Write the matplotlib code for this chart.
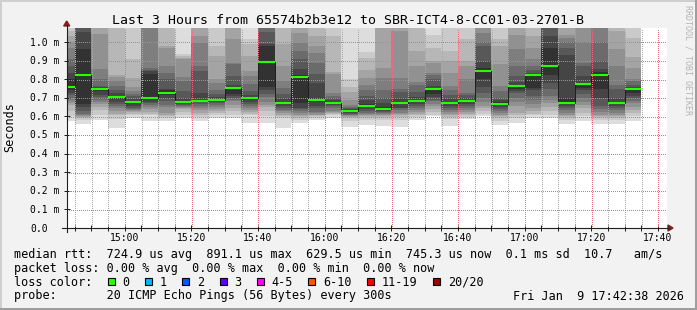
import math
import matplotlib
matplotlib.use("Agg")
import matplotlib.pyplot as plt
from matplotlib.patches import Rectangle, Polygon
import matplotlib.transforms as mtransforms

plt.rcParams['font.family'] = ['DejaVu Sans Mono']

# 5 minute bins (start time), median rtt (ms) and the 20 sorted pings (ms) of each bin
bin_times = ["14:40", "14:45", "14:50", "14:55", "15:00", "15:05", "15:10", "15:15",
             "15:20", "15:25", "15:30", "15:35", "15:40", "15:45", "15:50", "15:55",
             "16:00", "16:05", "16:10", "16:15", "16:20", "16:25", "16:30", "16:35",
             "16:40", "16:45", "16:50", "16:55", "17:00", "17:05", "17:10", "17:15",
             "17:20", "17:25", "17:30"]

median_ms = [0.760, 0.825, 0.750, 0.704, 0.677, 0.697, 0.726, 0.677, 0.684, 0.690,
             0.753, 0.699, 0.8911, 0.672, 0.812, 0.690, 0.672, 0.6295, 0.656, 0.640,
             0.672, 0.683, 0.747, 0.672, 0.683, 0.844, 0.667, 0.763, 0.823, 0.871,
             0.672, 0.774, 0.823, 0.672, 0.7453]

smoke_ms = [
    [0.575, 0.602, 0.63, 0.66, 0.67, 0.685, 0.70, 0.715, 0.725, 0.74, 0.80, 0.835, 0.87, 0.91, 0.97, 1.00, 1.03, 1.06, 1.10, 1.20],
    [0.557, 0.58, 0.59, 0.595, 0.60, 0.605, 0.615, 0.63, 0.65, 0.665, 0.964, 1.055, 1.10, 1.12, 1.14, 1.16, 1.18, 1.20, 1.25, 1.30],
    [0.58, 0.61, 0.635, 0.65, 0.665, 0.675, 0.69, 0.705, 0.715, 0.735, 0.755, 0.76, 0.765, 0.80, 0.855, 1.045, 1.1, 1.15, 1.2, 1.3],
    [0.54, 0.585, 0.605, 0.615, 0.63, 0.645, 0.655, 0.665, 0.68, 0.695, 0.71, 0.725, 0.74, 0.765, 0.79, 0.81, 0.825, 1.1, 1.2, 1.3],
    [0.593, 0.605, 0.615, 0.625, 0.63, 0.635, 0.64, 0.645, 0.655, 0.665, 0.685, 0.695, 0.71, 0.72, 0.735, 0.76, 0.808, 0.907, 1.1, 1.2],
    [0.577, 0.61, 0.615, 0.625, 0.64, 0.65, 0.66, 0.67, 0.68, 0.69, 0.83, 0.845, 0.85, 0.86, 1.1, 1.15, 1.2, 1.3, 1.4, 1.5],
    [0.577, 0.59, 0.60, 0.61, 0.62, 0.65, 0.66, 0.685, 0.70, 0.715, 0.74, 0.745, 0.80, 0.835, 0.87, 0.97, 0.978, 1.1, 1.2, 1.3],
    [0.59, 0.61, 0.625, 0.64, 0.645, 0.65, 0.655, 0.66, 0.665, 0.67, 0.685, 0.70, 0.736, 0.79, 0.81, 0.907, 0.915, 0.925, 0.934, 1.2],
    [0.577, 0.595, 0.61, 0.62, 0.635, 0.645, 0.655, 0.665, 0.675, 0.68, 0.69, 0.728, 0.844, 0.871, 0.996, 1.032, 1.1, 1.2, 1.3, 1.4],
    [0.59, 0.605, 0.62, 0.63, 0.64, 0.65, 0.66, 0.67, 0.68, 0.685, 0.695, 0.705, 0.72, 0.74, 0.78, 0.80, 0.925, 0.978, 1.1, 1.2],
    [0.593, 0.61, 0.63, 0.647, 0.66, 0.683, 0.69, 0.70, 0.71, 0.72, 0.758, 0.77, 0.817, 0.88, 0.885, 1.014, 1.1, 1.15, 1.25, 1.35],
    [0.563, 0.605, 0.615, 0.625, 0.635, 0.645, 0.656, 0.665, 0.675, 0.69, 0.705, 0.715, 0.736, 0.773, 0.817, 0.844, 0.925, 0.99, 1.014, 1.2],
    [0.565, 0.60, 0.63, 0.652, 0.66, 0.68, 0.706, 0.72, 0.74, 0.76, 0.98, 0.99, 1.056, 1.1, 1.15, 1.2, 1.25, 1.3, 1.35, 1.4],
    [0.537, 0.59, 0.60, 0.61, 0.62, 0.628, 0.635, 0.645, 0.655, 0.665, 0.68, 0.70, 0.72, 0.75, 0.79, 0.871, 0.99, 1.1, 1.2, 1.3],
    [0.567, 0.58, 0.59, 0.60, 0.61, 0.62, 0.63, 0.64, 0.647, 0.674, 0.82, 0.853, 0.907, 0.953, 0.996, 1.05, 1.1, 1.2, 1.3, 1.4],
    [0.58, 0.59, 0.60, 0.605, 0.61, 0.62, 0.625, 0.645, 0.656, 0.675, 0.70, 0.78, 0.826, 0.889, 0.943, 0.978, 1.03, 1.1, 1.2, 1.3],
    [0.593, 0.61, 0.615, 0.62, 0.625, 0.629, 0.645, 0.655, 0.66, 0.665, 0.68, 0.69, 0.70, 0.71, 0.725, 0.826, 0.84, 1.032, 1.1, 1.2],
    [0.543, 0.575, 0.59, 0.595, 0.60, 0.605, 0.61, 0.615, 0.62, 0.625, 0.635, 0.64, 0.645, 0.65, 0.66, 0.69, 0.73, 0.76, 0.80, 1.2],
    [0.552, 0.58, 0.59, 0.60, 0.608, 0.615, 0.62, 0.63, 0.64, 0.652, 0.665, 0.688, 0.71, 0.742, 0.77, 0.805, 0.85, 0.912, 0.948, 1.2],
    [0.548, 0.58, 0.59, 0.60, 0.61, 0.615, 0.62, 0.625, 0.63, 0.635, 0.65, 0.67, 0.70, 0.742, 0.805, 0.858, 1.1, 1.2, 1.3, 1.4],
    [0.545, 0.58, 0.595, 0.605, 0.615, 0.62, 0.635, 0.645, 0.647, 0.665, 0.68, 0.70, 0.73, 0.746, 0.808, 1.06, 1.1, 1.2, 1.3, 1.4],
    [0.582, 0.595, 0.605, 0.615, 0.625, 0.635, 0.645, 0.655, 0.665, 0.675, 0.69, 0.705, 0.73, 0.77, 0.785, 0.87, 0.95, 1.1, 1.2, 1.3],
    [0.602, 0.61, 0.625, 0.64, 0.656, 0.665, 0.683, 0.69, 0.705, 0.718, 0.755, 0.765, 0.80, 0.82, 0.835, 0.889, 0.90, 0.97, 1.04, 1.2],
    [0.55, 0.585, 0.595, 0.605, 0.615, 0.625, 0.635, 0.645, 0.655, 0.665, 0.68, 0.70, 0.715, 0.74, 0.763, 0.835, 0.90, 0.95, 1.1, 1.2],
    [0.585, 0.595, 0.605, 0.615, 0.625, 0.635, 0.645, 0.655, 0.665, 0.675, 0.69, 0.70, 0.715, 0.728, 0.80, 0.871, 0.90, 1.014, 1.1, 1.2],
    [0.60, 0.615, 0.63, 0.645, 0.655, 0.675, 0.70, 0.728, 0.76, 0.80, 0.86, 0.898, 0.978, 1.0, 1.05, 1.1, 1.15, 1.2, 1.3, 1.4],
    [0.556, 0.575, 0.59, 0.60, 0.61, 0.62, 0.63, 0.64, 0.65, 0.66, 0.675, 0.69, 0.70, 0.736, 0.763, 0.88, 0.978, 1.014, 1.1, 1.2],
    [0.565, 0.59, 0.605, 0.62, 0.655, 0.675, 0.70, 0.728, 0.735, 0.75, 0.77, 0.785, 0.817, 0.871, 0.963, 1.04, 1.1, 1.2, 1.3, 1.4],
    [0.593, 0.605, 0.615, 0.63, 0.645, 0.665, 0.69, 0.71, 0.74, 0.755, 0.83, 0.835, 0.85, 0.871, 0.907, 0.97, 1.03, 1.1, 1.2, 1.3],
    [0.59, 0.61, 0.63, 0.65, 0.67, 0.69, 0.71, 0.745, 0.78, 0.82, 0.97, 1.03, 1.1, 1.15, 1.2, 1.25, 1.3, 1.35, 1.4, 1.5],
    [0.56, 0.58, 0.59, 0.60, 0.61, 0.62, 0.635, 0.645, 0.655, 0.665, 0.70, 0.93, 0.97, 1.0, 1.02, 1.04, 1.1, 1.2, 1.3, 1.4],
    [0.577, 0.60, 0.62, 0.647, 0.66, 0.68, 0.70, 0.72, 0.74, 0.755, 0.78, 0.817, 0.871, 0.889, 1.0, 1.1, 1.15, 1.2, 1.3, 1.4],
    [0.557, 0.58, 0.59, 0.60, 0.61, 0.625, 0.64, 0.656, 0.70, 0.746, 0.84, 0.853, 0.90, 1.0, 1.1, 1.15, 1.2, 1.3, 1.4, 1.5],
    [0.56, 0.58, 0.59, 0.60, 0.61, 0.62, 0.635, 0.645, 0.655, 0.665, 0.68, 0.70, 0.745, 0.77, 0.87, 0.96, 1.06, 1.1, 1.2, 1.3],
    [0.577, 0.60, 0.62, 0.635, 0.65, 0.67, 0.685, 0.70, 0.71, 0.728, 0.75, 0.76, 0.77, 0.79, 0.80, 0.862, 0.92, 1.022, 1.1, 1.2],
]

x_ticks = ["15:00", "15:20", "15:40", "16:00", "16:20", "16:40", "17:00", "17:20", "17:40"]
y_ticks = [0.0, 0.1, 0.2, 0.3, 0.4, 0.5, 0.6, 0.7, 0.8, 0.9, 1.0]

title = "Last 3 Hours from 65574b2b3e12 to SBR-ICT4-8-CC01-03-2701-B"
rtt_line = "median rtt:  724.9 us avg  891.1 us max  629.5 us min  745.3 us now  0.1 ms sd  10.7   am/s"
loss_line = "packet loss: 0.00 % avg  0.00 % max  0.00 % min  0.00 % now"
loss_labels = ["0", "1", "2", "3", "4-5", "6-10", "11-19", "20/20"]
loss_colors = ["#26ff00", "#00b8ff", "#0059ff", "#5e00ff", "#ff00ff", "#ff5500", "#ff0000", "#a10000"]
probe_line = "probe:       20 ICMP Echo Pings (56 Bytes) every 300s"
stamp = "Fri Jan  9 17:42:38 2026"
graph_end = "17:42:38"


def to_min(s):
    parts = [int(v) for v in s.split(":")]
    return parts[0] * 60 + parts[1] + (parts[2] / 60 if len(parts) > 2 else 0)


W, H = 697, 310
fig = plt.figure(figsize=(W / 100, H / 100), dpi=100, facecolor="#f2f2f2")


def box(x0, y0, x1, y1):
    return [x0 / W, 1 - y1 / H, (x1 - x0) / W, (y1 - y0) / H]


ax = fig.add_axes(box(66.7, 28, 666.7, 228))
ax.set_facecolor("white")
t_end = to_min(graph_end)
t_start = t_end - 180
y_top = 200 / 186

starts = [to_min(t) for t in bin_times]

# smoke: band k spans ping k .. ping 21-k, darker towards the median
for k in range(10):
    g = int(190 / 10 * (10 - (k + 1))) + 50
    col = "#%02x%02x%02x" % (g, g, g)
    lo = [sorted(p)[k] for p in smoke_ms]
    hi = [sorted(p)[19 - k] for p in smoke_ms]
    ax.bar(starts, [h - l for h, l in zip(hi, lo)], bottom=lo, width=5, align="edge",
           color=col, linewidth=0, zorder=1)

# median
ax.step(starts + [starts[-1] + 5], median_ms + [median_ms[-1]], where="post",
        color="#202020", lw=0.6, linestyle=(0, (1.2, 1.2)), antialiased=False, zorder=3)
ax.hlines(median_ms, starts, [s + 5 for s in starts], colors="#26ff00", lw=1.5, zorder=4)

# ticks
major = [to_min(t) for t in x_ticks]
minor = [s for s in starts + [starts[-1] + 5] if t_start < s < t_end and s not in major]
ax.set_xticks(major)
ax.set_xticklabels(x_ticks, fontsize=7)
ax.set_xticks(minor, minor=True)
ax.set_yticks(y_ticks)
ax.set_yticklabels([])
ax.set_xlim(t_start, t_end)
ax.set_ylim(0, y_top)
ax.tick_params(which="both", direction="inout", length=4, width=0.72, color="#1f1f1f", pad=1.5)
for s in ax.spines.values():
    s.set_visible(False)

# dotted grid, snapped to whole pixels so every line gets the same dot pattern
ident = mtransforms.IdentityTransform()
x0d, y0d = ax.transData.transform((t_start, 0))
x1d, y1d = ax.transData.transform((t_end, y_top))


def pix(v):
    return math.floor(v) + 0.5


minor_x = [pix(ax.transData.transform((t, 0))[0]) for t in minor]
major_x = [pix(ax.transData.transform((t, 0))[0]) for t in major]
major_y = [pix(ax.transData.transform((t_start, v))[1]) for v in y_ticks[1:]]
dots = (0, (1.2, 2.4))
ax.vlines(minor_x, y0d, y1d, transform=ident, colors="#a8a8a8", lw=0.6,
          linestyles=[dots], antialiased=False, zorder=2.5)
ax.vlines(major_x, y0d, y1d, transform=ident, colors="#e87070", lw=0.6,
          linestyles=[dots], antialiased=False, zorder=2.6)
ax.hlines(major_y, x0d, x1d, transform=ident, colors="#e87070", lw=0.6,
          linestyles=[dots], antialiased=False, zorder=2.6)
ax.set_xlim(t_start, t_end)
ax.set_ylim(0, y_top)

ytr = mtransforms.offset_copy(ax.get_yaxis_transform(), fig=fig, x=0, y=-3.5, units="dots")
for v in y_ticks:
    lab = "0.0" if v == 0 else "%.1f m" % v
    ax.text((30 - 66.7) / 600, v, lab, transform=ytr, fontsize=7, ha="left", va="baseline")

# overlay in pixel coordinates
ov = fig.add_axes([0, 0, 1, 1])
ov.set_xlim(0, W)
ov.set_ylim(H, 0)
ov.axis("off")
ov.patch.set_alpha(0)

axis_col = "#1f1f1f"
arrow_col = "#801f1f"
ov.plot([62, 669], [228, 228], color=axis_col, lw=0.8)
ov.plot([66.7, 66.7], [232, 25], color=axis_col, lw=0.8)
ov.add_patch(Polygon([(668, 225), (668, 231), (673, 228)], closed=True, color=arrow_col))
ov.add_patch(Polygon([(63.7, 26), (69.7, 26), (66.7, 21)], closed=True, color=arrow_col))

ov.text(348.5, 24, title, ha="center", va="baseline", fontsize=9.5)
ov.text(10, 127, "Seconds", rotation=90, ha="center", va="center", fontsize=8.5)
ov.text(688, 60, "RRDTOOL / TOBI OETIKER", rotation=270, ha="center", va="center",
        fontsize=6, color="#b4b4b4")

ov.text(14.4, 258.3, rtt_line, fontsize=8.5, va="baseline")
ov.text(14.4, 272, loss_line, fontsize=8.5, va="baseline")
ov.text(14.4, 285.5, "loss color:", fontsize=8.5, va="baseline")
sx = 108.0
for lab, col in zip(loss_labels, loss_colors):
    ov.add_patch(Rectangle((sx, 278.3), 7, 7, facecolor=col, edgecolor="black", lw=0.8))
    ov.text(sx + 14.7, 285.5, lab, fontsize=8.5, va="baseline")
    sx += 14.7 + len(lab) * 7.14 + 15.4
ov.text(14.4, 299.5, probe_line, fontsize=8.5, va="baseline")
ov.text(513.3, 299.5, stamp, fontsize=8.5, va="baseline")

# 3d border
ov.add_patch(Rectangle((0, 0), W, 2, color="#cfcfcf", lw=0))
ov.add_patch(Rectangle((0, 0), 2, H, color="#cfcfcf", lw=0))
ov.add_patch(Rectangle((0, H - 2), W, 2, color="#9e9e9e", lw=0))
ov.add_patch(Rectangle((W - 2, 0), 2, H, color="#9e9e9e", lw=0))

fig.savefig("out.png", dpi=100, facecolor=fig.get_facecolor())
